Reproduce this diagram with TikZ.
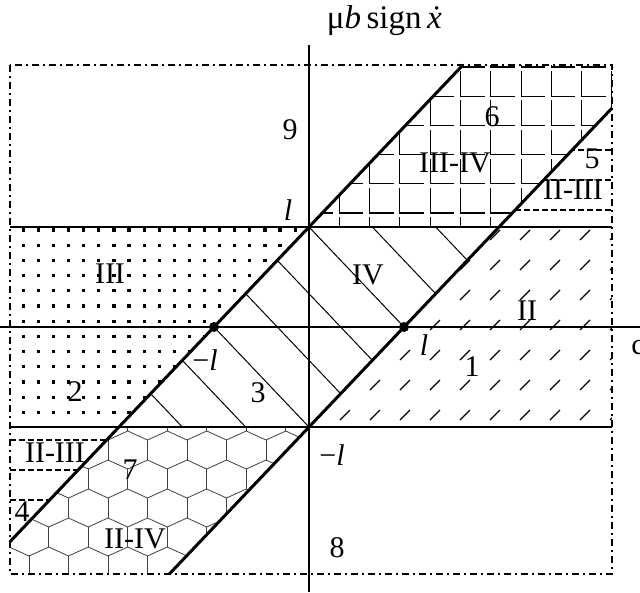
\documentclass[tikz,border=0pt]{standalone}
\usepackage{fontspec}
\setmainfont{Liberation Serif}
\begin{document}
\begin{tikzpicture}[x=1pt,y=-1pt,
  lab/.style={font=\fontsize{30}{32}\selectfont, inner sep=0pt},
  toplab/.style={font=\fontsize{33}{35}\selectfont, inner sep=0pt},
  thickln/.style={line width=2.4pt},
  diag/.style={line width=3pt},
  axisln/.style={line width=1.3pt},
  framestyle/.style={line width=1.3pt, dash pattern=on 7pt off 4pt on 2pt off 4pt},
  hatch/.style={line width=1pt},
  slash/.style={line width=1.1pt},
  gridln/.style={line width=1.1pt},
  dashrow/.style={line width=1.1pt, dash pattern=on 6pt off 3pt},
  hexln/.style={line width=0.8pt, black!75},
  dotmark/.style={fill=black},
  bigdot/.style={circle, fill=black, inner sep=0pt, minimum size=10pt}
]
\path[use as bounding box] (0,0) rectangle (640,592);
% key points
\coordinate (TL) at (10,65);
\coordinate (BR) at (612,574);
\coordinate (AL) at (0,327);
\coordinate (AR) at (640,327);
\coordinate (AT) at (309,45);
\coordinate (AB) at (309,592);
\coordinate (H1a) at (10,227);
\coordinate (H1b) at (612,227);
\coordinate (H2a) at (10,427);
\coordinate (H2b) at (612,427);
\coordinate (D1a) at (10,541.7);
\coordinate (D1b) at (462.9,65);
\coordinate (D2a) at (169.35,574);
\coordinate (D2b) at (612,108.1);
\coordinate (V1) at (309,227);
\coordinate (V2) at (499,227);
\coordinate (V3) at (309,427);
\coordinate (V4) at (119,427);

% dots region (III, 2)
\begin{scope}
\clip (H1a) -- (V1) -- (V4) -- (H2a) -- cycle;
\foreach \i in {0,...,19} {
  \foreach \j in {0,...,13} {
    \fill[dotmark] ({23.3+15.1*\i-1.6},{230+15.2*\j-1.6}) rectangle ++(3.2,3.2);
  }
}
\end{scope}

% hatch region (IV, 3)
\begin{scope}
\clip (V1) -- (V2) -- (V3) -- (V4) -- cycle;
\foreach \c in {-7,-5,-3,-1,1,3,5,7} {
  \draw[hatch] ({309+95*\c/3-285},27) -- ({309+95*\c/3+285},627);
}
\end{scope}

% slash region (II, 1)
\begin{scope}
\clip (V2) -- (H1b) -- (H2b) -- (V3) -- cycle;
\foreach \i in {-4,...,7} {
  \foreach \j in {0,...,6} {
    \draw[slash] ({405+30*\i-5},{235+30*\j+5}) -- ++(10,-10);
  }
}
\end{scope}

% grid region (6, III-IV)
\begin{scope}
\clip (V1) -- (D1b) -- (612,65) -- (D2b) -- (V2) -- cycle;
\foreach \k in {0,...,10} {
  \foreach \yr in {242.2,213,183.8,154.6,125.4,96.2,67} {
    \draw[gridln] ({309+30.3*\k},{\yr-25}) -- ({309+30.3*\k},\yr) -- ({309+30.3*\k+24},\yr);
  }
}
\end{scope}

% region 5 dashed
\begin{scope}
\clip (V2) -- (D2b) -- (H1b) -- cycle;
\foreach \yr in {150,180,210} {
  \draw[dashrow] (470,\yr) -- (612,\yr);
}
\end{scope}

% region 4 dashed
\begin{scope}
\clip (H2a) -- (V4) -- (D1a) -- cycle;
\foreach \yr in {440,470,500} {
  \draw[dashrow] (10,\yr) -- (130,\yr);
}
\end{scope}

% hexagon region (7, II-IV)
\begin{scope}
\clip (V4) -- (V3) -- (D2a) -- (10,574) -- (D1a) -- cycle;
\foreach \r in {-1,...,5} {
  \pgfmathsetmacro{\yr}{440+29*\r}
  \pgfmathsetmacro{\xo}{isodd(\r) ? 88.25 : 108}
  \foreach \k in {-3,...,7} {
    \draw[hexln] ({\xo+39.5*\k-19.75},{\yr+29}) -- ({\xo+39.5*\k},{\yr+20}) -- ({\xo+39.5*\k+19.75},{\yr+29});
    \draw[hexln] ({\xo+39.5*\k},\yr) -- ({\xo+39.5*\k},{\yr+20});
  }
}
\end{scope}

% frame
\draw[framestyle] (TL) rectangle (BR);
% axes
\draw[axisln] (AL) -- (AR);
\draw[axisln] (AT) -- (AB);
% horizontal bounds
\draw[thickln] (H1a) -- (H1b);
\draw[thickln] (H2a) -- (H2b);
% diagonals
\draw[diag] (D1a) -- (D1b);
\draw[diag] (D2a) -- (D2b);
% points
\node[bigdot] (P) at (214,327) {};
\node[bigdot] (Q) at (404,327) {};

% labels
\node[toplab, anchor=base east] (tl) at (442,28) {μ\textit{b}\,sign\,\textit{ẋ}};
\node[lab] (n9) at (290,130) {9};
\node[lab] (n6) at (492,117) {6};
\node[lab] (r34) at (455,163) {III-IV};
\node[lab] (n5) at (592,159) {5};
\node[lab] (r23a) at (573,190) {II-III};
\node[lab] (lt) at (288,210) {\textit{l}};
\node[lab] (r3) at (110,274) {III};
\node[lab] (r4) at (368,275) {IV};
\node[lab] (r2) at (527,311) {II};
\node[lab] (ml) at (205,360) {−\textit{l}};
\node[lab] (lr) at (424,345) {\textit{l}};
\node[lab] (n1) at (472,367) {1};
\node[lab] (n2) at (75,392) {2};
\node[lab] (n3) at (258,393) {3};
\node[lab] (r23b) at (55,453) {II-III};
\node[lab] (n7) at (130,470) {7};
\node[lab] (n4) at (22,512) {4};
\node[lab] (r24) at (135,539) {II-IV};
\node[lab] (mlb) at (332,455) {−\textit{l}};
\node[lab] (n8) at (337,548) {8};
\node[lab] (cc) at (638,348) {c};
\end{tikzpicture}
\end{document}
